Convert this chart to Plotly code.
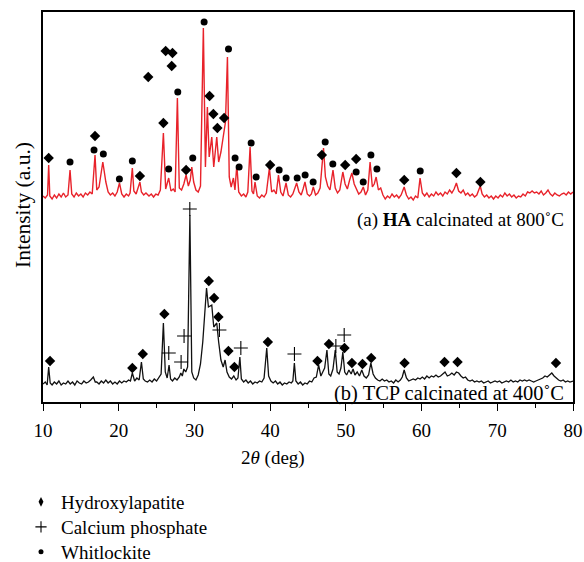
import plotly.graph_objects as go

# ---- (a) HA calcinated at 800 C : red pattern (2theta deg, intensity a.u.) ----
red_x = [10.0, 10.3, 10.6, 10.75, 10.9, 11.2, 11.5, 11.8, 12.1, 12.4, 12.7, 13.0, 13.3, 13.57, 13.8,
         14.1, 14.4, 14.7, 15.0, 15.3, 15.6, 15.9, 16.2, 16.5, 16.87, 17.1, 17.4, 17.9, 18.3, 18.6,
         18.9, 19.2, 19.5, 19.8, 20.1, 20.4, 20.7, 21.0, 21.3, 21.5, 21.8, 22.0, 22.3, 22.8, 23.0,
         23.3, 23.6, 24.0, 24.3, 24.6, 24.9, 25.2, 25.5, 25.9, 26.2, 26.6, 26.9, 27.2, 27.45, 27.75,
         28.0, 28.3, 28.6, 28.9, 29.2, 29.45, 29.65, 29.9, 30.2, 30.5, 30.8, 31.18, 31.45, 31.71, 31.95,
         32.29, 32.55, 32.95, 33.2, 33.5, 33.8, 34.1, 34.36, 34.6, 34.85, 35.15, 35.35, 35.6, 35.85, 36.2,
         36.5, 36.8, 37.05, 37.35, 37.6, 37.8, 38.0, 38.3, 38.6, 38.9, 39.2, 39.5, 39.9, 40.2, 40.5,
         40.8, 41.1, 41.4, 41.7, 42.1, 42.4, 42.7, 43.0, 43.2, 43.5, 43.8, 44.1, 44.35, 44.6, 44.9,
         45.2, 45.45, 45.7, 46.0, 46.3, 46.6, 47.05, 47.3, 47.6, 47.9, 48.3, 48.6, 48.9, 49.2, 49.6,
         49.9, 50.2, 50.5, 50.8, 51.1, 51.4, 51.7, 52.0, 52.3, 52.6, 52.9, 53.2, 53.5, 53.75, 54.0,
         54.3, 54.6, 54.9, 55.2, 55.5, 55.8, 56.1, 56.4, 56.7, 57.0, 57.3, 57.7, 58.0, 58.3, 58.6,
         58.9, 59.2, 59.5, 59.8, 60.1, 60.4, 60.7, 61.0, 61.3, 61.6, 61.9, 62.2, 62.5, 62.8, 63.1,
         63.4, 63.7, 64.0, 64.3, 64.6, 64.9, 65.2, 65.5, 65.8, 66.1, 66.4, 66.7, 67.0, 67.3, 67.75,
         68.0, 68.3, 68.6, 68.9, 69.2, 69.5, 69.8, 70.1, 70.4, 70.7, 71.0, 71.3, 71.6, 71.9, 72.2,
         72.5, 72.8, 73.1, 73.4, 73.7, 74.0, 74.3, 74.6, 74.9, 75.2, 75.5, 75.8, 76.1, 76.4, 76.7,
         77.0, 77.3, 77.6, 77.9, 78.2, 78.5, 78.8, 79.1, 79.4, 79.7, 80.0]
red_y = [206, 204, 207, 237, 206, 203, 207, 204, 208, 205, 209, 205, 207, 232, 208,
         205, 209, 206, 208, 205, 209, 207, 210, 208, 247, 212, 215, 240, 220, 210,
         207, 209, 206, 210, 219, 208, 205, 208, 206, 209, 234, 211, 208, 220, 210,
         207, 209, 206, 208, 205, 208, 207, 212, 269, 213, 224, 211, 213, 210, 304,
         214, 212, 218, 227, 216, 222, 235, 220, 212, 210, 216, 374, 235, 295, 245,
         265, 235, 265, 240, 250, 265, 280, 345, 225, 215, 224, 212, 237, 210, 206,
         208, 205, 210, 255, 211, 208, 220, 206, 204, 207, 205, 209, 234, 210, 212,
         208, 227, 210, 206, 219, 207, 205, 208, 212, 219, 210, 207, 213, 220, 208,
         206, 208, 215, 207, 209, 214, 254, 225, 216, 212, 232, 214, 209, 212, 230,
         218, 213, 222, 229, 218, 212, 208, 210, 215, 207, 212, 240, 215, 218, 225,
         212, 214, 207, 203, 206, 204, 208, 205, 207, 204, 207, 215, 207, 203, 205,
         202, 206, 204, 224, 209, 206, 209, 205, 208, 206, 210, 207, 209, 206, 210,
         208, 212, 209, 213, 219, 211, 209, 212, 207, 209, 206, 208, 205, 207, 216,
         208, 205, 207, 204, 206, 203, 206, 204, 207, 205, 209, 206, 208, 205, 207,
         204, 206, 205, 208, 206, 210, 209, 211, 209, 210, 208, 211, 207, 209, 212,
         208, 206, 209, 207, 206, 208, 209, 207, 210, 208, 210]

# ---- (b) TCP calcinated at 400 C : black pattern ----
black_x = [10.0, 10.3, 10.55, 10.75, 10.95, 11.2, 11.5, 11.8, 12.1, 12.4, 12.7, 13.0, 13.3, 13.6, 13.9,
           14.2, 14.5, 14.8, 15.1, 15.4, 15.7, 16.0, 16.3, 16.65, 16.9, 17.1, 17.4, 17.7, 18.0, 18.3,
           18.6, 18.9, 19.2, 19.5, 19.8, 20.1, 20.4, 20.7, 21.0, 21.3, 21.55, 21.8, 22.1, 22.4, 22.7,
           23.0, 23.25, 23.5, 23.8, 24.1, 24.4, 24.7, 25.0, 25.3, 25.6, 25.9, 26.15, 26.4, 26.65, 26.85,
           27.1, 27.4, 27.7, 28.0, 28.2, 28.4, 28.6, 28.85, 29.1, 29.4, 29.65, 29.9, 30.2, 30.5, 30.8,
           31.1, 31.4, 31.6, 31.85, 32.29, 32.55, 32.95, 33.2, 33.5, 33.8, 34.05, 34.3, 34.6, 34.9, 35.2,
           35.5, 35.75, 36.0, 36.2, 36.5, 36.8, 37.1, 37.4, 37.7, 38.0, 38.3, 38.6, 38.9, 39.2, 39.55,
           39.8, 40.1, 40.4, 40.7, 41.0, 41.3, 41.6, 41.9, 42.2, 42.5, 42.8, 43.0, 43.2, 43.4, 43.7,
           44.0, 44.3, 44.6, 44.9, 45.2, 45.5, 45.8, 46.1, 46.4, 46.7, 46.95, 47.2, 47.5, 47.75, 48.0,
           48.3, 48.6, 48.85, 49.1, 49.35, 49.6, 49.85, 50.1, 50.4, 50.7, 50.95, 51.2, 51.5, 51.8, 52.1,
           52.4, 52.7, 53.0, 53.3, 53.6, 53.9, 54.2, 54.5, 54.8, 55.1, 55.4, 55.7, 56.0, 56.3, 56.6,
           56.9, 57.2, 57.45, 57.7, 58.0, 58.3, 58.6, 58.9, 59.2, 59.5, 59.8, 60.1, 60.4, 60.7, 61.0,
           61.3, 61.6, 61.9, 62.2, 62.5, 62.8, 63.1, 63.4, 63.7, 64.0, 64.3, 64.6, 64.9, 65.2, 65.5,
           65.8, 66.1, 66.4, 66.7, 67.0, 67.3, 67.6, 67.9, 68.2, 68.5, 68.8, 69.1, 69.4, 69.7, 70.0,
           70.3, 70.6, 70.9, 71.2, 71.5, 71.8, 72.1, 72.4, 72.7, 73.0, 73.3, 73.6, 73.9, 74.2, 74.5,
           74.8, 75.1, 75.4, 75.7, 76.0, 76.3, 76.6, 76.9, 77.2, 77.5, 77.8, 78.1, 78.4, 78.7, 79.0,
           79.3, 79.6, 80.0]
black_y = [18, 20, 17, 35, 19, 17, 20, 18, 21, 17, 19, 18, 21, 18, 20,
           17, 21, 19, 18, 21, 19, 20, 22, 25, 20, 20, 18, 21, 19, 22,
           19, 21, 18, 20, 18, 21, 19, 21, 20, 22, 21, 29, 21, 24, 22,
           40, 23, 21, 20, 22, 20, 23, 21, 24, 28, 79, 30, 24, 37, 23,
           21, 24, 22, 25, 29, 26, 33, 30, 35, 187, 30, 24, 22, 27, 38,
           60, 95, 114, 95, 97, 75, 79, 60, 42, 35, 42, 30, 25, 23, 26,
           22, 24, 45, 23, 20, 22, 19, 21, 18, 20, 19, 21, 20, 24, 54,
           26, 21, 19, 21, 18, 20, 17, 19, 18, 20, 19, 21, 39, 21, 18,
           20, 17, 19, 18, 21, 20, 24, 25, 37, 26, 30, 34, 52, 28, 26,
           33, 52, 30, 28, 34, 50, 30, 27, 32, 28, 33, 27, 30, 26, 32,
           26, 24, 27, 39, 28, 24, 22, 21, 23, 21, 22, 20, 21, 19, 22,
           20, 22, 25, 32, 24, 21, 22, 23, 22, 24, 23, 25, 23, 26, 24,
           26, 25, 27, 25, 26, 28, 30, 26, 27, 29, 27, 30, 29, 26, 24,
           25, 22, 21, 22, 20, 21, 20, 21, 19, 20, 21, 19, 20, 21, 20,
           21, 19, 20, 21, 20, 22, 20, 21, 20, 22, 21, 22, 21, 22, 21,
           20, 21, 22, 23, 24, 26, 25, 27, 29, 26, 24, 22, 21, 22, 20,
           21, 20, 21]

# ---- phase markers ----
ha_x = [10.75, 16.87, 22.8, 23.9, 25.9, 26.2, 27.1, 27.0, 28.9, 32.0, 32.5, 33.03, 33.92, 40.0,
        46.83, 49.91, 51.36, 57.71, 64.6, 67.77,
        10.93, 21.8, 23.18, 26.03, 31.9, 32.6, 33.17, 34.49, 35.28, 39.7, 46.25, 47.76, 49.82,
        50.8, 52.2, 53.35, 57.75, 63.03, 64.75, 77.75]
ha_y = [244, 266, 226, 325, 279, 351, 349, 336, 232, 306, 288, 274, 284, 237,
        247, 237, 243, 222, 229, 220,
        41, 34, 48, 88, 121, 104, 85, 51, 35, 60, 41, 58, 54,
        39, 38, 44, 39, 40, 40, 39]

cp_x = [26.61, 28.24, 28.63, 29.39, 33.3, 36.13, 43.21, 48.68, 49.78]
cp_y = [49, 40, 66, 193, 72, 54, 48, 56, 67]

wh_x = [13.57, 16.74, 17.97, 20.09, 21.8, 26.6, 27.8, 29.78, 31.28, 34.5, 35.37, 35.9, 37.49, 38.15,
        41.19, 42.11, 43.57, 44.62, 45.68, 47.27, 48.28, 51.36, 52.29, 53.31, 54.1, 59.82]
wh_y = [240, 252, 248, 223, 241, 233, 310, 244, 380, 353, 244, 235, 259, 225,
        232, 224, 224, 227, 220, 260, 238, 230, 220, 247, 233, 231]

x_ticks = [10, 20, 30, 40, 50, 60, 70, 80]
phase_names = ["Hydroxylapatite", "Calcium phosphate", "Whitlockite"]
label_a = "(a) <b>HA</b> calcinated at 800˚C"
label_b = "(b) TCP calcinated at 400˚C"

SERIF = "Liberation Serif"
W, H = 584, 562

fig = go.Figure()
fig.add_trace(go.Scatter(x=red_x, y=red_y, mode="lines", line=dict(color="#e8222a", width=1.4),
                         showlegend=False, hoverinfo="skip"))
fig.add_trace(go.Scatter(x=black_x, y=black_y, mode="lines", line=dict(color="#111111", width=1.3),
                         showlegend=False, hoverinfo="skip"))
fig.add_trace(go.Scatter(x=ha_x, y=ha_y, mode="markers", showlegend=False,
                         marker=dict(symbol="diamond", size=8, color="black")))
fig.add_trace(go.Scatter(x=cp_x, y=cp_y, mode="markers", showlegend=False,
                         marker=dict(symbol="cross-thin", size=10, color="black",
                                     line=dict(width=1.1, color="black"))))
fig.add_trace(go.Scatter(x=wh_x, y=wh_y, mode="markers", showlegend=False,
                         marker=dict(symbol="circle", size=7, color="black")))
# legend-only entries (small symbols as in the reference key), one legend box each
fig.add_trace(go.Scatter(x=[None], y=[None], mode="markers", name=phase_names[0], legend="legend",
                         marker=dict(symbol="diamond-tall", size=7, color="black")))
fig.add_trace(go.Scatter(x=[None], y=[None], mode="markers", name=phase_names[1], legend="legend2",
                         marker=dict(symbol="cross-thin", size=8, color="black",
                                     line=dict(width=1.1, color="black"))))
fig.add_trace(go.Scatter(x=[None], y=[None], mode="markers", name=phase_names[2], legend="legend3",
                         marker=dict(symbol="circle", size=5, color="black")))


def key_box(center_y):
    return dict(xref="container", yref="container", x=21 / W, y=1 - center_y / H,
                xanchor="left", yanchor="middle", font=dict(family=SERIF, size=19),
                bgcolor="rgba(0,0,0,0)", itemwidth=30)


fig.update_layout(
    width=W, height=H,
    margin=dict(l=43, r=11, t=12, b=160, autoexpand=False),
    paper_bgcolor="white", plot_bgcolor="white",
    font=dict(family=SERIF, size=19, color="black"),
    showlegend=True,
    legend=key_box(502),
    legend2=key_box(527),
    legend3=key_box(552),
    xaxis=dict(range=[10, 80], tickvals=x_ticks, ticks="outside", ticklen=7, tickwidth=1.2,
               tickcolor="black", showline=True, linecolor="black", linewidth=1.5, mirror=True,
               showgrid=False, zeroline=False, ticklabelstandoff=3,
               tickfont=dict(family=SERIF, size=19),
               minor=dict(tickvals=[15, 25, 35, 45, 55, 65, 75], ticks="outside", ticklen=4,
                          tickwidth=1.2, tickcolor="black")),
    yaxis=dict(range=[0, 390], showticklabels=False, ticks="", showline=True, linecolor="black",
               linewidth=1.5, mirror=True, showgrid=False, zeroline=False),
    annotations=[
        dict(text=label_a, xref="paper", yref="paper", x=(566 - 43) / 530, y=(402 - 220) / 390,
             xanchor="right", yanchor="middle", showarrow=False, font=dict(family=SERIF, size=19)),
        dict(text=label_b, xref="paper", yref="paper", x=(566 - 43) / 530, y=(402 - 393) / 390,
             xanchor="right", yanchor="middle", showarrow=False, font=dict(family=SERIF, size=20.5)),
        dict(text="2<i>θ</i> (deg)", xref="paper", yref="paper", x=(273 - 43) / 530,
             y=(402 - 458) / 390, xanchor="center", yanchor="middle", showarrow=False,
             font=dict(family=SERIF, size=19)),
        dict(text="Intensity (a.u.)", xref="paper", yref="paper", x=(23 - 43) / 530,
             y=(402 - 205) / 390, xanchor="center", yanchor="middle", showarrow=False,
             textangle=-90, font=dict(family=SERIF, size=21.5)),
    ],
)

fig.write_html("out.html", config={"displayModeBar": False},
               post_script="document.body.style.margin='0px';")
